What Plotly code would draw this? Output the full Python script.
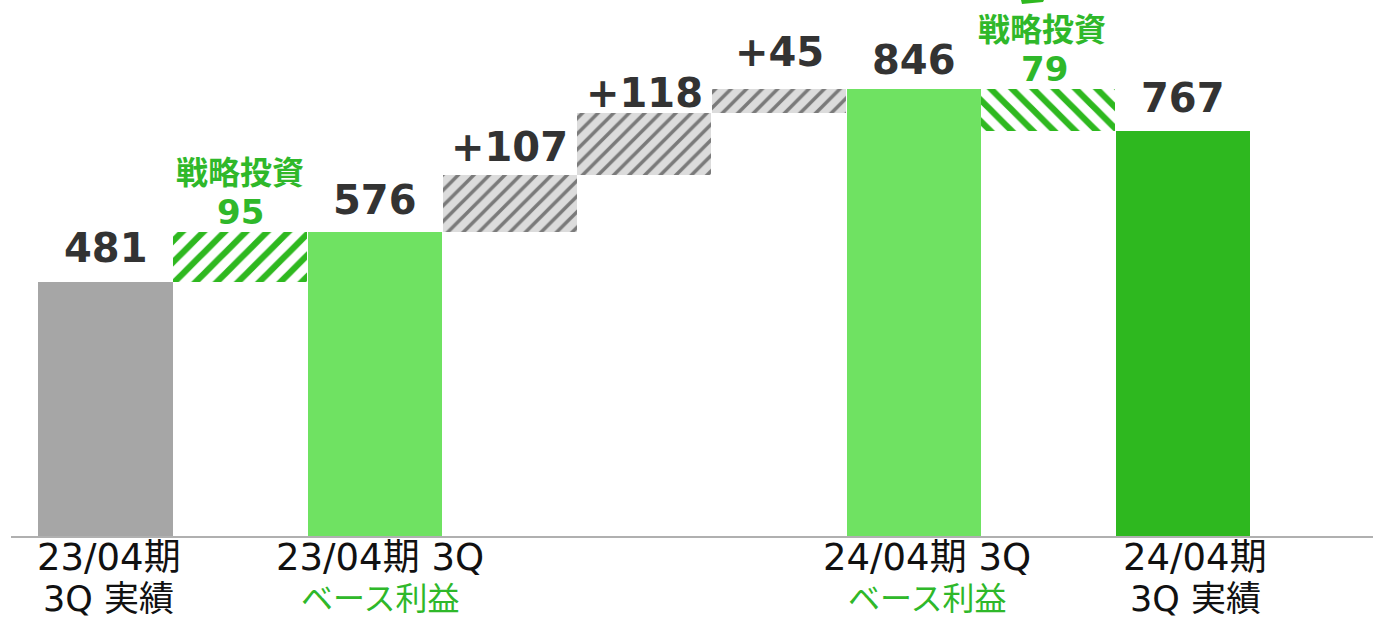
import plotly.graph_objects as go

# Waterfall of quarterly profit: actuals, strategic investment add-back, base-profit bridge
slot_kinds = ["total", "invest", "total", "gain", "gain", "gain", "total", "invest", "total"]
signed_values = [481, 95, 576, 107, 118, 45, 846, -79, 767]

category_line1 = {0: "23/04期", 2: "23/04期 3Q", 6: "24/04期 3Q", 8: "24/04期"}
category_line2 = {0: "3Q 実績", 2: "ベース利益", 6: "ベース利益", 8: "3Q 実績"}
invest_title = "戦略投資"

# styling
GRAY_BAR = "#a6a6a6"
LIGHT_GREEN = "#6fe262"
DARK_GREEN = "#2eb81f"
TEXT_GREEN = "#2fb82a"
LABEL_DARK = "#333333"
NUM_FONT = "DejaVu Sans"
JP_FONT = "Noto Sans CJK JP"

W, H = 1373, 619
ML, MB = 11, 83
SLOT0_PX, SLOT_PX = 105.5, 134.7
PX_PER_UNIT = 0.528
plot_w = W - ML
plot_h = H - MB
x_lo = -(SLOT0_PX - ML) / SLOT_PX
x_hi = x_lo + plot_w / SLOT_PX
y_hi = plot_h / PX_PER_UNIT

# running totals -> floating bar bases
bases, heights = [], []
running = 0
for kind, v in zip(slot_kinds, signed_values):
    if kind == "total":
        bases.append(0)
        heights.append(v)
        running = v
    else:
        lo = running if v >= 0 else running + v
        bases.append(lo)
        heights.append(abs(v))
        running += v

fig = go.Figure()

def add_bar(idx, color=None, pattern=None):
    marker = dict(line=dict(width=0))
    if color:
        marker["color"] = color
    if pattern:
        marker["pattern"] = pattern
    fig.add_trace(go.Bar(
        x=[idx], y=[heights[idx]], base=[bases[idx]], width=0.995,
        marker=marker, hoverinfo="skip", showlegend=False,
    ))

total_colors = {0: GRAY_BAR, 2: LIGHT_GREEN, 6: LIGHT_GREEN, 8: DARK_GREEN}
for i, kind in enumerate(slot_kinds):
    if kind == "total":
        add_bar(i, color=total_colors[i])
    elif kind == "gain":
        add_bar(i, color="#dcdcdc", pattern=dict(
            shape="/", bgcolor="#dcdcdc", fgcolor="#7a7a7a",
            size=11, solidity=0.32, fillmode="replace"))
    else:
        add_bar(i, color="white", pattern=dict(
            shape="/" if signed_values[i] > 0 else "\\", bgcolor="white",
            fgcolor=DARK_GREEN, size=15, solidity=0.42, fillmode="replace"))

annotations = []
# value labels above bars (pixel lift of label centre above bar top)
lift = {0: 34, 2: 32, 3: 28, 4: 20, 5: 37, 6: 29, 8: 33}
for i, kind in enumerate(slot_kinds):
    top = bases[i] + heights[i]
    if kind == "total":
        txt = f"{signed_values[i]}"
    elif kind == "gain":
        txt = f"+{signed_values[i]}"
    else:
        continue
    annotations.append(dict(
        x=i, y=top, text=f"<b>{txt}</b>", showarrow=False,
        yanchor="middle", yshift=lift[i],
        font=dict(family=NUM_FONT, size=40, color=LABEL_DARK)))

# strategic-investment labels
for i, kind in enumerate(slot_kinds):
    if kind != "invest":
        continue
    top = bases[i] + heights[i]
    annotations.append(dict(
        x=i, y=top, text=f"<b>{abs(signed_values[i])}</b>", showarrow=False,
        yanchor="middle", yshift=20, xshift=-4 if i == 7 else 0,
        font=dict(family=NUM_FONT, size=34, color=TEXT_GREEN)))
    annotations.append(dict(
        x=i, y=top, text=f"<b>{invest_title}</b>", showarrow=False,
        yanchor="middle", yshift=62, xshift=-6 if i == 7 else 0,
        font=dict(family=JP_FONT, size=32, color=TEXT_GREEN)))

# category labels under the axis
cat_shift = {0: 3, 2: 5, 6: 13, 8: 12}
for i, line1 in category_line1.items():
    annotations.append(dict(
        x=i, y=0, text=line1, showarrow=False, yanchor="middle",
        yshift=-21, xshift=cat_shift[i],
        font=dict(family=f"{NUM_FONT}, {JP_FONT}", size=37, color="#111111")))
    l2 = category_line2[i]
    green = "ベース" in l2
    annotations.append(dict(
        x=i, y=0, text=l2, showarrow=False, yanchor="middle",
        yshift=-63, xshift=cat_shift[i],
        font=dict(family=f"{NUM_FONT}, {JP_FONT}",
                  size=32 if green else 35,
                  color=TEXT_GREEN if green else "#111111")))

# small arrow fragment at the top edge
def px_x(p):
    return x_lo + (p - ML) / SLOT_PX

def px_y(p):
    return (plot_h - p) / PX_PER_UNIT

frag = [(1021, 0), (1044, 0), (1043, 2), (1022, 4)]
path = "M " + " L ".join(f"{px_x(a):.4f},{px_y(b):.2f}" for a, b in frag) + " Z"
shapes = [dict(type="path", path=path, xref="x", yref="y",
               fillcolor=DARK_GREEN, line=dict(width=0))]

fig.update_layout(
    width=W, height=H,
    margin=dict(l=ML, r=0, t=0, b=MB, pad=0),
    paper_bgcolor="white", plot_bgcolor="white",
    barmode="overlay", bargap=0,
    xaxis=dict(range=[x_lo, x_hi], showgrid=False, zeroline=False,
               showticklabels=False, ticks="", showline=True,
               linecolor="#b0b0b0", linewidth=2, fixedrange=True),
    yaxis=dict(range=[0, y_hi], showgrid=False, zeroline=False,
               showticklabels=False, ticks="", showline=False, fixedrange=True),
    annotations=annotations,
    shapes=shapes,
)

fig.write_html("out.html", config={"displayModeBar": False})
